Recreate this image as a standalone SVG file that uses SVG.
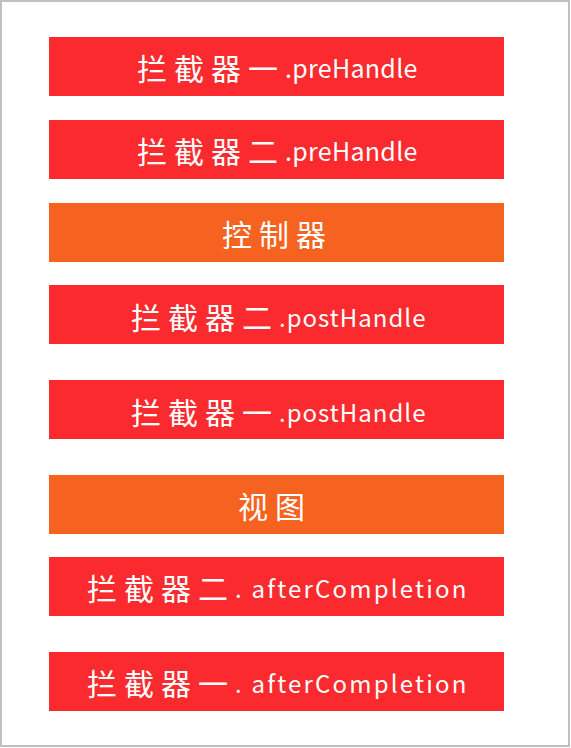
<svg xmlns="http://www.w3.org/2000/svg" width="571" height="748" viewBox="0 0 571 748">
<style>
.red{fill:#FA2A2E}
.orange{fill:#F6621F}
.lbl{fill:#ffffff;font-family:"Noto Sans CJK SC","Noto Sans",sans-serif;font-size:30px;letter-spacing:7px;dominant-baseline:central}
.lat{font-size:25px;letter-spacing:0.3px}
.lat2{font-size:24px;letter-spacing:1px}
.lat3{font-size:24px;letter-spacing:2.2px}
</style>
<rect x="1" y="1" width="568" height="745" fill="#ffffff" stroke="#c0c0c0" stroke-width="2"/>
<g id="n1"><rect class="red" x="49" y="37" width="455" height="59"/><text class="lbl" x="137" y="67">拦截器一<tspan class="lat">.preHandle</tspan></text></g>
<g id="n2"><rect class="red" x="49" y="120" width="455" height="59"/><text class="lbl" x="137" y="150">拦截器二<tspan class="lat">.preHandle</tspan></text></g>
<g id="n3"><rect class="orange" x="49" y="203" width="455" height="59"/><text class="lbl" x="222" y="233">控制器</text></g>
<g id="n4"><rect class="red" x="49" y="285" width="455" height="59"/><text class="lbl" x="131" y="315.5">拦截器二<tspan class="lat2">.postHandle</tspan></text></g>
<g id="n5"><rect class="red" x="49" y="380" width="455" height="59"/><text class="lbl" x="131" y="410.5">拦截器一<tspan class="lat2">.postHandle</tspan></text></g>
<g id="n6"><rect class="orange" x="49" y="475" width="455" height="59"/><text class="lbl" x="238" y="505">视图</text></g>
<g id="n7"><rect class="red" x="49" y="557" width="455" height="59"/><text class="lbl" x="87" y="587">拦截器二<tspan class="lat3">. afterCompletion</tspan></text></g>
<g id="n8"><rect class="red" x="49" y="652" width="455" height="59"/><text class="lbl" x="87" y="682">拦截器一<tspan class="lat3">. afterCompletion</tspan></text></g>
<g id="connectors"></g>
</svg>
